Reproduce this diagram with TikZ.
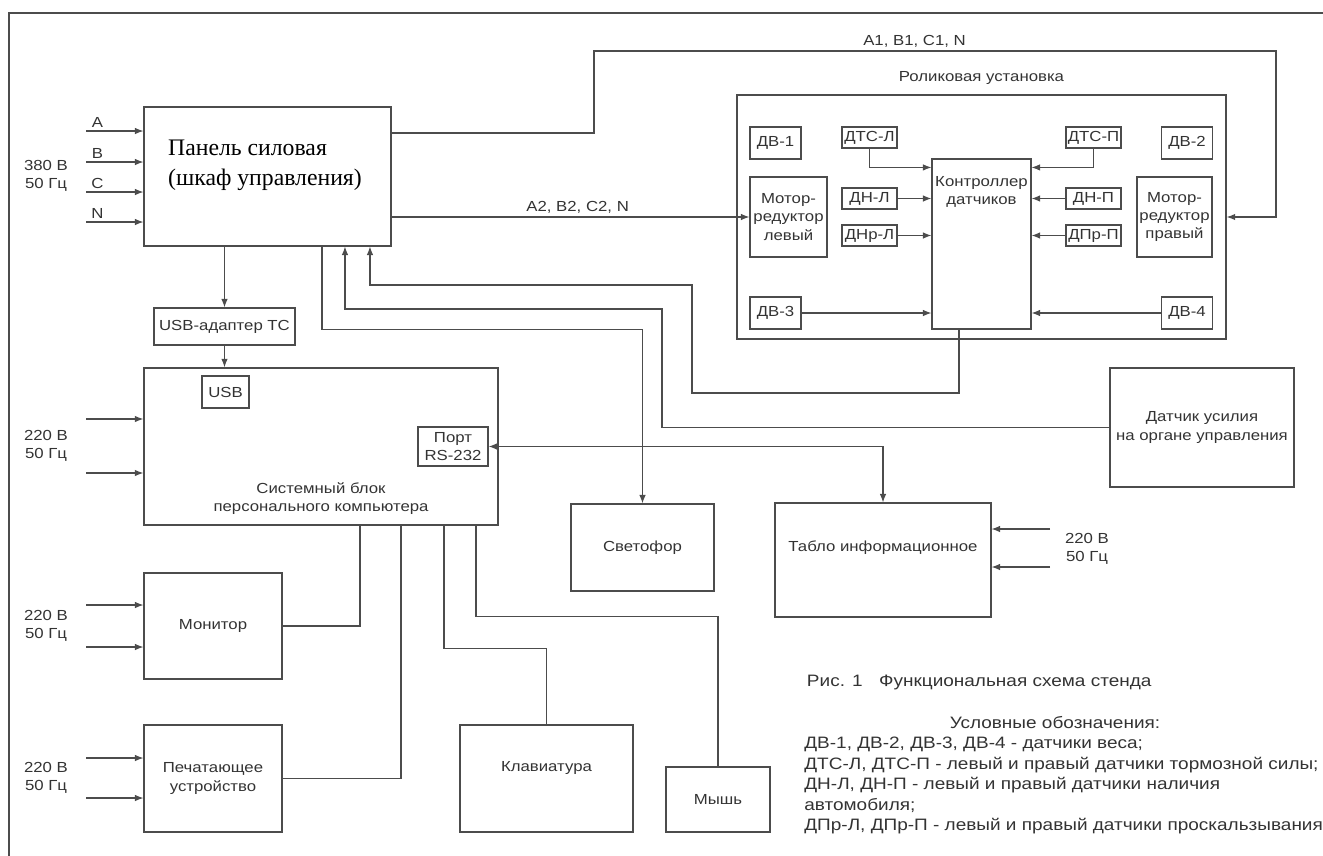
\documentclass[tikz,border=0pt]{standalone}
\usepackage{fontspec}
\setmainfont{Liberation Sans}[FakeStretch=1.15]
\newfontfamily\panelfont{Liberation Serif}
\usetikzlibrary{arrows.meta,positioning,calc}
\newcommand\fsbox{\fontsize{8.3}{10.3}\selectfont}
\newcommand\fslegend{\fontsize{9.4}{11.6}\selectfont}
\tikzset{
  box/.style={draw=black!70, line width=0.65pt, align=center, inner sep=1pt, font=\fsbox, text=black!80},
  sens/.style={box, inner sep=0.3pt, minimum width=1.1cm, minimum height=0.42cm},
  dvbox/.style={box, minimum width=1.02cm, minimum height=0.64cm},
  sig/.style={-{Latex[length=1.7mm,width=1.3mm]}, line width=0.6pt, draw=black!70},
  bidir/.style={sig, {Latex[length=1.7mm,width=1.3mm]}-{Latex[length=1.7mm,width=1.3mm]}},
  wire/.style={line width=0.6pt, draw=black!70},
  lab/.style={font=\fsbox, align=center, inner sep=1.5pt, text=black!80},
}
\begin{document}
\begin{tikzpicture}[x=0.02cm, y=-0.02cm]
  \useasboundingbox (0,0) rectangle (1323,856);
  \draw[wire] (9,856) -- (9,13) -- (1323,13);

  % power panel and its inputs
  \node[box, minimum width=4.94cm, minimum height=2.78cm] (panel) at (267.5,176.5) {};
  \node[font=\panelfont\fontsize{13.5}{17}\selectfont, align=left] (paneltxt) at (265,165) {Панель силовая\\(шкаф управления)};
  \foreach \n/\y in {A/131,B/162,C/192,N/222}{
    \coordinate (in\n) at (86,\y);
    \draw[sig] (in\n) -- node[lab, above, pos=0.2] (lab\n) {\n} (in\n -| panel.west);
  }
  \node[lab] (mains) at (46,176) {380 В\\50 Гц};

  % computer
  \node[box, minimum width=2.82cm, minimum height=0.74cm] (usbad) at (224.5,326.5) {USB-адаптер ТС};
  \node[box, line width=0.8pt, minimum width=7.08cm, minimum height=3.14cm] (pc) at (321,446.5) {};
  \node[lab] (pctxt) at (321,498.5) {Системный блок\\персонального компьютера};
  \node[box, minimum width=0.94cm, minimum height=0.64cm] (usb) at (225.5,392) {USB};
  \node[box, minimum width=1.4cm, minimum height=0.78cm] (port) at (453,446.5) {Порт\\RS-232};
  \foreach \k/\y in {1/419,2/473}{
    \coordinate (pcin\k) at (86,\y);
    \draw[sig] (pcin\k) -- (pcin\k -| pc.west);
  }
  \node[lab] (pcmains) at (46,446) {220 В\\50 Гц};

  % peripherals
  \node[box, minimum width=2.76cm, minimum height=2.12cm] (mon) at (213,626) {Монитор};
  \foreach \k/\y in {1/605,2/647}{
    \coordinate (monin\k) at (86,\y);
    \draw[sig] (monin\k) -- (monin\k -| mon.west);
  }
  \node[lab] (monmains) at (46,626) {220 В\\50 Гц};
  \node[box, minimum width=2.76cm, minimum height=2.14cm] (prn) at (213,778.5) {Печатающее\\устройство};
  \foreach \k/\y in {1/758,2/798}{
    \coordinate (prnin\k) at (86,\y);
    \draw[sig] (prnin\k) -- (prnin\k -| prn.west);
  }
  \node[lab] (prnmains) at (46,778) {220 В\\50 Гц};
  \node[box, minimum width=3.46cm, minimum height=2.14cm] (kbd) at (546.5,778.5) {};
  \node[lab] (kbdtxt) at (546.5,768) {Клавиатура};
  \node[box, minimum width=2.08cm, minimum height=1.3cm] (mouse) at (718,799.5) {Мышь};
  \node[box, minimum width=2.86cm, minimum height=1.74cm] (svet) at (642.5,547.5) {Светофор};
  \node[box, minimum width=4.32cm, minimum height=2.28cm] (tablo) at (883,560) {};
  \node[lab] (tablotxt) at (883,548) {Табло информационное};
  \foreach \k/\y in {1/529,2/567}{
    \coordinate (tbin\k) at (1050,\y);
    \draw[sig] (tbin\k) -- (tbin\k -| tablo.east);
  }
  \node[lab] (tbmains) at (1087,549) {220 В\\50 Гц};
  \node[box, minimum width=3.68cm, minimum height=2.38cm] (force) at (1202,427.5) {Датчик усилия\\на органе управления};

  % roller unit
  \node[box, line width=0.9pt, minimum width=9.78cm, minimum height=4.88cm] (roller) at (981.5,217) {};
  \node[lab] (rolltitle) at (981.5,78) {Роликовая установка};
  \node[dvbox] (dv1) at (775.5,143) {ДВ-1};
  \node[dvbox] (dv2) at (1187,143) {ДВ-2};
  \node[dvbox] (dv3) at (775.5,313) {ДВ-3};
  \node[dvbox] (dv4) at (1187,313) {ДВ-4};
  \node[box, minimum width=1.54cm, minimum height=1.6cm] (motl) at (788.5,217) {Мотор-\\редуктор\\левый};
  \node[box, minimum width=1.5cm, minimum height=1.6cm] (motr) at (1174.5,217) {Мотор-\\редуктор\\правый};
  \node[sens] (dtsl) at (869.5,137.5) {ДТС-Л};
  \node[sens] (dnl) at (869.5,198.5) {ДН-Л};
  \node[sens] (dnrl) at (869.5,235.5) {ДНр-Л};
  \node[sens] (dtsp) at (1093.5,137.5) {ДТС-П};
  \node[sens] (dnp) at (1093.5,198.5) {ДН-П};
  \node[sens] (dprp) at (1093.5,235.5) {ДПр-П};
  \node[box, minimum width=1.98cm, minimum height=3.4cm] (ctrl) at (981.5,244) {};
  \node[lab] (ctrltxt) at (981.5,191.5) {Контроллер\\датчиков};

  \draw[sig] (dtsl.south) |- ([yshift=-0.18cm]ctrl.north west);
  \draw[sig] (dnl) -- (dnl -| ctrl.west);
  \draw[sig] (dnrl) -- (dnrl -| ctrl.west);
  \draw[sig] (dv3) -- (dv3 -| ctrl.west);
  \draw[sig] (dtsp.south) |- ([yshift=-0.18cm]ctrl.north east);
  \draw[sig] (dnp) -- (dnp -| ctrl.east);
  \draw[sig] (dprp) -- (dprp -| ctrl.east);
  \draw[sig] (dv4) -- (dv4 -| ctrl.east);

  % power lines
  \draw[sig] ([yshift=0.87cm]panel.east) -| (594,51)
    -| node[lab, above, pos=0.235] (a1lab) {A1, B1, C1, N} (1276,217) -- (motr -| roller.east);
  \draw[sig] (motl.west -| panel.east) -- node[lab, above, pos=0.52] (a2lab) {A2, B2, C2, N} (motl.west);

  % signals
  \draw[sig] (panel.south -| usbad.north) -- (usbad.north);
  \draw[sig] (usbad.south) -- (usbad.south |- pc.north);
  \draw[sig] ([xshift=1.09cm]panel.south) -- ++(0,83) -| (svet.north);
  \draw[sig] (force.west) -| (662,309) -| ([xshift=1.55cm]panel.south);
  \draw[sig] ([xshift=-0.45cm]ctrl.south) |- (692,393) -- (692,285) -| ([xshift=2.05cm]panel.south);
  \draw[bidir] (tablo.north) |- (port.east);

  \draw[wire] (mon.east) -| ([xshift=0.78cm]pc.south);
  \draw[wire] (prn.east) -| ([xshift=1.6cm]pc.south);
  \draw[wire] ([xshift=2.46cm]pc.south) -- ++(0,123) -| (kbd.north);
  \draw[wire] ([xshift=3.1cm]pc.south) -- ++(0,91) -| (mouse.north);

  % caption and legend
  \node[lab, anchor=west, font=\fslegend] (caption) at (804,682) {Рис. 1\quad Функциональная схема стенда};
  \node[lab, font=\fslegend] (legtitle) at (1055,723) {Условные обозначения:};
  \node[anchor=north west, align=left, font=\fslegend, inner sep=0pt, text=black!80] (legend) at (804,737)
    {ДВ-1, ДВ-2, ДВ-3, ДВ-4 - датчики веса;\\
     ДТС-Л, ДТС-П - левый и правый датчики тормозной силы;\\
     ДН-Л, ДН-П - левый и правый датчики наличия\\
     автомобиля;\\
     ДПр-Л, ДПр-П - левый и правый датчики проскальзывания};
\end{tikzpicture}
\end{document}
